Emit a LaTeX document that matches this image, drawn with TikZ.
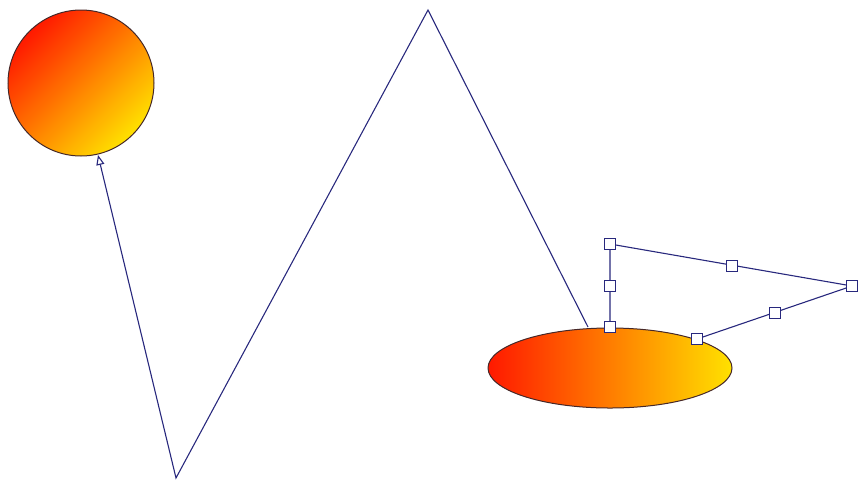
\documentclass[tikz,border=0pt]{standalone}
\usetikzlibrary{arrows.meta,shapes.geometric}
\definecolor{navy}{RGB}{40,40,125}
\definecolor{gred}{RGB}{255,25,0}
\definecolor{gyel}{RGB}{255,225,0}
\definecolor{rim}{RGB}{70,40,40}
\tikzset{
  conn/.style={draw=navy, line width=1.1pt, line join=miter},
  handle/.style={draw=navy, fill=white, line width=1pt, minimum size=11pt, inner sep=0pt, rectangle},
}
\begin{document}
\begin{tikzpicture}[x=1pt,y=-1pt]
\useasboundingbox (0,0) rectangle (858,480);
\node[circle, minimum size=146pt, inner sep=0pt, draw=rim, line width=1pt,
  left color=gred, right color=gyel, shading angle=45] (ball) at (81,83) {};
\node[ellipse, minimum width=244pt, minimum height=80pt, inner sep=0pt, draw=rim, line width=1pt,
  left color=gred, right color=gyel] (disc) at (610,368) {};
\coordinate (start) at (588,327);
\coordinate (peak) at (428,10);
\coordinate (valley) at (176,478);
\coordinate (tip) at (98,155);
\draw[conn, -{Triangle[open, length=10pt, width=8pt]}] (start) -- (peak) -- (valley) -- (tip);
\coordinate (h1) at (610,327);
\coordinate (h3) at (610,244);
\coordinate (h5) at (852,286);
\coordinate (h7) at (697,339);
\draw[conn] (h1) -- (h3) -- (h5) -- (h7);
\node[handle] (s1) at (h1) {};
\node[handle] (s2) at (610,286) {};
\node[handle] (s3) at (h3) {};
\node[handle] (s4) at (732,266) {};
\node[handle] (s5) at (h5) {};
\node[handle] (s6) at (775,313) {};
\node[handle] (s7) at (h7) {};
\end{tikzpicture}
\end{document}
